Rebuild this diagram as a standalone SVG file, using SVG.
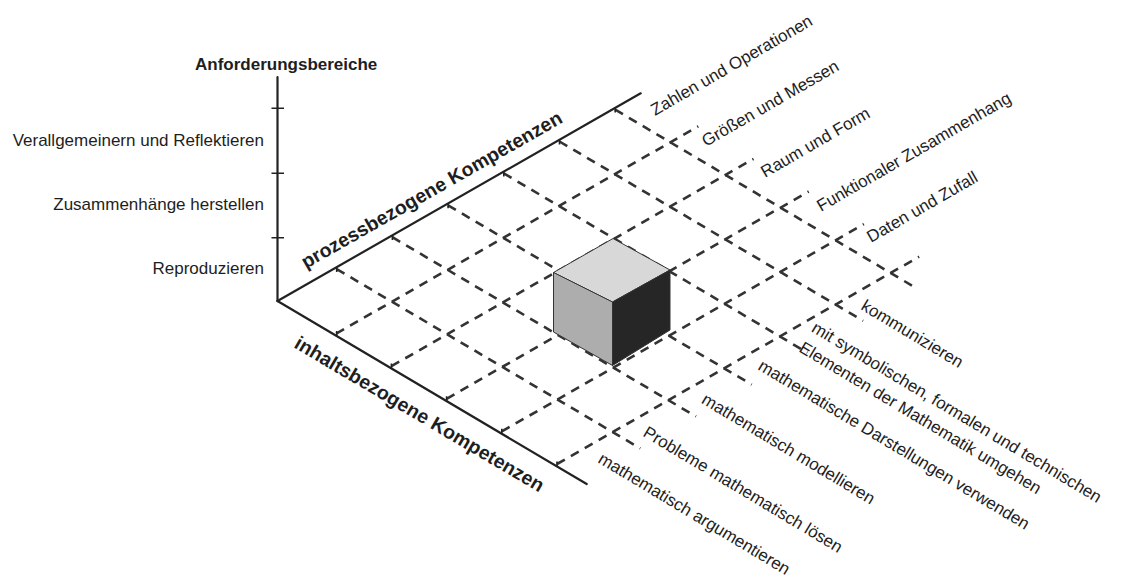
<svg xmlns="http://www.w3.org/2000/svg" width="1122" height="580" viewBox="0 0 1122 580">
<style>
.ax{stroke:#222;stroke-width:2.2;fill:none;stroke-linecap:round}
.tk{stroke:#222;stroke-width:1.6;fill:none}
.dl{stroke:#333;stroke-width:2.6;fill:none;stroke-dasharray:9 7}
.lb{font-family:"Liberation Sans",Arial,sans-serif;font-size:17px;fill:#1e1e1e}
.bd{font-family:"Liberation Sans",Arial,sans-serif;font-size:19.5px;font-weight:bold;fill:#1e1e1e}
.ti{font-family:"Liberation Sans",Arial,sans-serif;font-size:17px;font-weight:bold;fill:#1e1e1e}
.edge{stroke:#333;stroke-width:1;stroke-linejoin:round}
</style>
<rect width="1122" height="580" fill="#ffffff"/>
<g id="connectors">
<line class="dl" x1="336.7" y1="269.1" x2="640.3" y2="448.4"/>
<line class="dl" x1="392.4" y1="237.2" x2="696.0" y2="416.5"/>
<line class="dl" x1="448.1" y1="205.3" x2="751.7" y2="384.6"/>
<line class="dl" x1="503.8" y1="173.4" x2="807.4" y2="352.7"/>
<line class="dl" x1="559.5" y1="141.5" x2="863.1" y2="320.8"/>
<line class="dl" x1="615.2" y1="109.6" x2="916" y2="288"/>
<line class="dl" x1="336.2" y1="333.6" x2="698.3" y2="126.3"/>
<line class="dl" x1="391.4" y1="366.2" x2="753.5" y2="158.9"/>
<line class="dl" x1="446.6" y1="398.8" x2="808.7" y2="191.5"/>
<line class="dl" x1="501.8" y1="431.4" x2="863.9" y2="224.1"/>
<line class="dl" x1="557.0" y1="464.0" x2="919.1" y2="256.7"/>
</g>
<g id="axes">
<line class="ax" x1="277.5" y1="301" x2="277.5" y2="77"/>
<line class="ax" x1="277.5" y1="301" x2="640.7" y2="93.3"/>
<line class="ax" x1="277.5" y1="301" x2="586.7" y2="484"/>
<path class="tk" d="M271.5 108.3H284M271.5 173.3H284M271.5 237.7H284"/>
<path class="tk" d="M336.7 267v5M392.4 235v5M448.1 203.2v5M503.8 171.4v5M559.5 139.5v5M615.2 107.6v5"/>
<path class="tk" d="M336.7 336v-5M391.4 368.6v-5M446.6 401.2v-5M501.8 433.8v-5M557 466.4v-5"/>
</g>
<g id="cube">
<polygon class="edge" fill="#d8d8d8" points="613,238.5 670,270 612.5,302 553.5,272.5"/>
<polygon class="edge" fill="#adadad" points="553.5,272.5 612.5,302 612.5,365.5 553.5,332"/>
<polygon class="edge" fill="#262626" points="612.5,302 670,270 670,330 612.5,365.5"/>
</g>
<g id="axis-labels">
<text class="ti" x="195" y="70">Anforderungsbereiche</text>
<text class="lb" x="264" y="145.7" text-anchor="end">Verallgemeinern und Reflektieren</text>
<text class="lb" x="264" y="210" text-anchor="end">Zusammenhänge herstellen</text>
<text class="lb" x="264" y="274.3" text-anchor="end">Reproduzieren</text>
<text class="bd" transform="translate(306,269) rotate(-29.7)">prozessbezogene Kompetenzen</text>
<text class="bd" transform="translate(293,347) rotate(30.6)">inhaltsbezogene Kompetenzen</text>
</g>
<g id="content-labels">
<text class="lb" transform="translate(655,116) rotate(-30)">Zahlen und Operationen</text>
<text class="lb" transform="translate(706,147) rotate(-30)">Größen und Messen</text>
<text class="lb" transform="translate(765,178) rotate(-30)">Raum und Form</text>
<text class="lb" transform="translate(821,212) rotate(-30)">Funktionaler Zusammenhang</text>
<text class="lb" transform="translate(871,243) rotate(-30)">Daten und Zufall</text>
</g>
<g id="process-labels">
<text class="lb" transform="translate(860,309) rotate(31)">kommunizieren</text>
<text class="lb" transform="translate(810.5,331) rotate(31)">mit symbolischen, formalen und technischen</text>
<text class="lb" transform="translate(798,351) rotate(31)">Elementen der Mathematik umgehen</text>
<text class="lb" transform="translate(757,369) rotate(31)">mathematische Darstellungen verwenden</text>
<text class="lb" transform="translate(700.5,402.6) rotate(31)">mathematisch modellieren</text>
<text class="lb" transform="translate(642,435.5) rotate(31)">Probleme mathematisch lösen</text>
<text class="lb" transform="translate(597,462) rotate(31)">mathematisch argumentieren</text>
</g>
</svg>
